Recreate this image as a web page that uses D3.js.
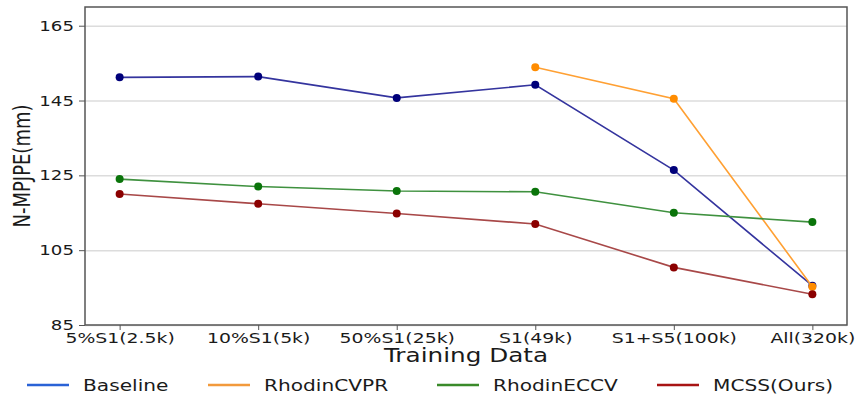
<!DOCTYPE html>
<html>
<head>
<meta charset="utf-8">
<script src="https://cdn.jsdelivr.net/npm/d3@7"></script>
<style>
  body { margin: 0; background: #fff; }
  text { font-family: "DejaVu Sans", sans-serif; fill: #1a1a1a; }
</style>
</head>
<body>
<div id="chart"></div>
<script>
// chart data
let categories = ['5%S1(2.5k)', '10%S1(5k)', '50%S1(25k)', 'S1(49k)', 'S1+S5(100k)', 'All(320k)'];
let baseline   = [151.2, 151.4, 145.7, 149.2, 126.4, 95.5];
let rhodinCVPR = [null, null, null, 153.9, 145.5, 95.2];
let rhodinECCV = [124.0, 122.0, 120.8, 120.6, 115.0, 112.5];
let mcss       = [120.0, 117.4, 114.8, 112.0, 100.4, 93.2];
let yTicks     = [85, 105, 125, 145, 165];
let seriesNames = ['Baseline', 'RhodinCVPR', 'RhodinECCV', 'MCSS(Ours)'];

let width = 858, height = 395;
let margin = { top: 7, right: 11, bottom: 70, left: 85 };
let stretch = 1.3; // the reference text is drawn wide

let series = [
  { name: seriesNames[0], values: baseline,   line: '#34349e', dot: '#00007a', key: '#2a62d6' },
  { name: seriesNames[1], values: rhodinCVPR, line: '#ffa033', dot: '#ff8c00', key: '#f29a3c' },
  { name: seriesNames[2], values: rhodinECCV, line: '#3f913f', dot: '#0a740a', key: '#3a8a2a' },
  { name: seriesNames[3], values: mcss,       line: '#a84848', dot: '#8b0000', key: '#a81414' }
];

let svg = d3.select('#chart').append('svg')
            .attr('width', width)
            .attr('height', height);

let xScale = d3.scalePoint()
               .domain(categories)
               .range([margin.left, width - margin.right])
               .padding(0.25);
let yScale = d3.scaleLinear()
               .domain([85, 170])
               .range([height - margin.bottom, margin.top]);

// horizontal gridlines
svg.append('g')
   .attr('class', 'grid')
   .attr('transform', `translate(${margin.left}, 0)`)
   .call(d3.axisLeft(yScale).tickValues(yTicks).tickSize(-(width - margin.left - margin.right)).tickFormat(''))
   .call(g => g.select('.domain').remove())
   .call(g => g.selectAll('line').attr('stroke', '#dcdcdc').attr('stroke-width', 1.5));

// lines and markers
let line = d3.line()
             .defined(d => d[1] != null)
             .x(d => xScale(d[0]))
             .y(d => yScale(d[1]));

series.forEach(s => {
  let pts = categories.map((c, i) => [c, s.values[i]]);
  svg.append('path')
     .datum(pts)
     .attr('fill', 'none')
     .attr('stroke', s.line)
     .attr('stroke-width', 1.6)
     .attr('d', line);
  svg.append('g')
     .selectAll('circle')
     .data(pts.filter(d => d[1] != null))
     .enter()
     .append('circle')
     .attr('cx', d => xScale(d[0]))
     .attr('cy', d => yScale(d[1]))
     .attr('r', 4)
     .attr('fill', s.dot);
});

// frame
svg.append('rect')
   .attr('x', margin.left)
   .attr('y', margin.top)
   .attr('width', width - margin.left - margin.right)
   .attr('height', height - margin.top - margin.bottom)
   .attr('fill', 'none')
   .attr('stroke', '#555')
   .attr('stroke-width', 1.5);

// x axis
svg.append('g')
   .attr('transform', `translate(0, ${height - margin.bottom})`)
   .call(d3.axisBottom(xScale).tickSize(5).tickPadding(3))
   .call(g => g.select('.domain').remove())
   .call(g => g.selectAll('line').attr('stroke', '#555'))
   .selectAll('text')
   .style('font-size', '14.5px')
   .attr('fill', '#1a1a1a')
   .attr('transform', `scale(${stretch}, 1)`);

// y axis
svg.append('g')
   .attr('transform', `translate(${margin.left}, 0)`)
   .call(d3.axisLeft(yScale).tickValues(yTicks).tickSize(6))
   .call(g => g.select('.domain').remove())
   .call(g => g.selectAll('line').attr('stroke', '#555'))
   .selectAll('text')
   .style('font-size', '14px')
   .attr('fill', '#1a1a1a')
   .attr('x', -8.5)
   .attr('transform', `scale(${stretch}, 1)`);

// axis titles
svg.append('text')
   .attr('transform', `translate(${width / 2 + 37}, 362) scale(${stretch}, 1)`)
   .attr('text-anchor', 'middle')
   .style('font-size', '19px')
   .text('Training Data');

svg.append('text')
   .attr('transform', `translate(30, ${166}) rotate(-90) scale(1, ${stretch})`)
   .attr('text-anchor', 'middle')
   .style('font-size', '18px')
   .text('N-MPJPE(mm)');

// legend
let legendX = [27, 208, 437, 657];
let legend = svg.append('g').attr('class', 'legend');
series.forEach((s, i) => {
  legend.append('line')
        .attr('x1', legendX[i]).attr('x2', legendX[i] + 42)
        .attr('y1', 385).attr('y2', 385)
        .attr('stroke', s.key)
        .attr('stroke-width', 2.5);
  legend.append('text')
        .attr('transform', `translate(${legendX[i] + 56}, 390.5) scale(${stretch}, 1)`)
        .style('font-size', '15.5px')
        .text(s.name);
});
</script>
</body>
</html>
